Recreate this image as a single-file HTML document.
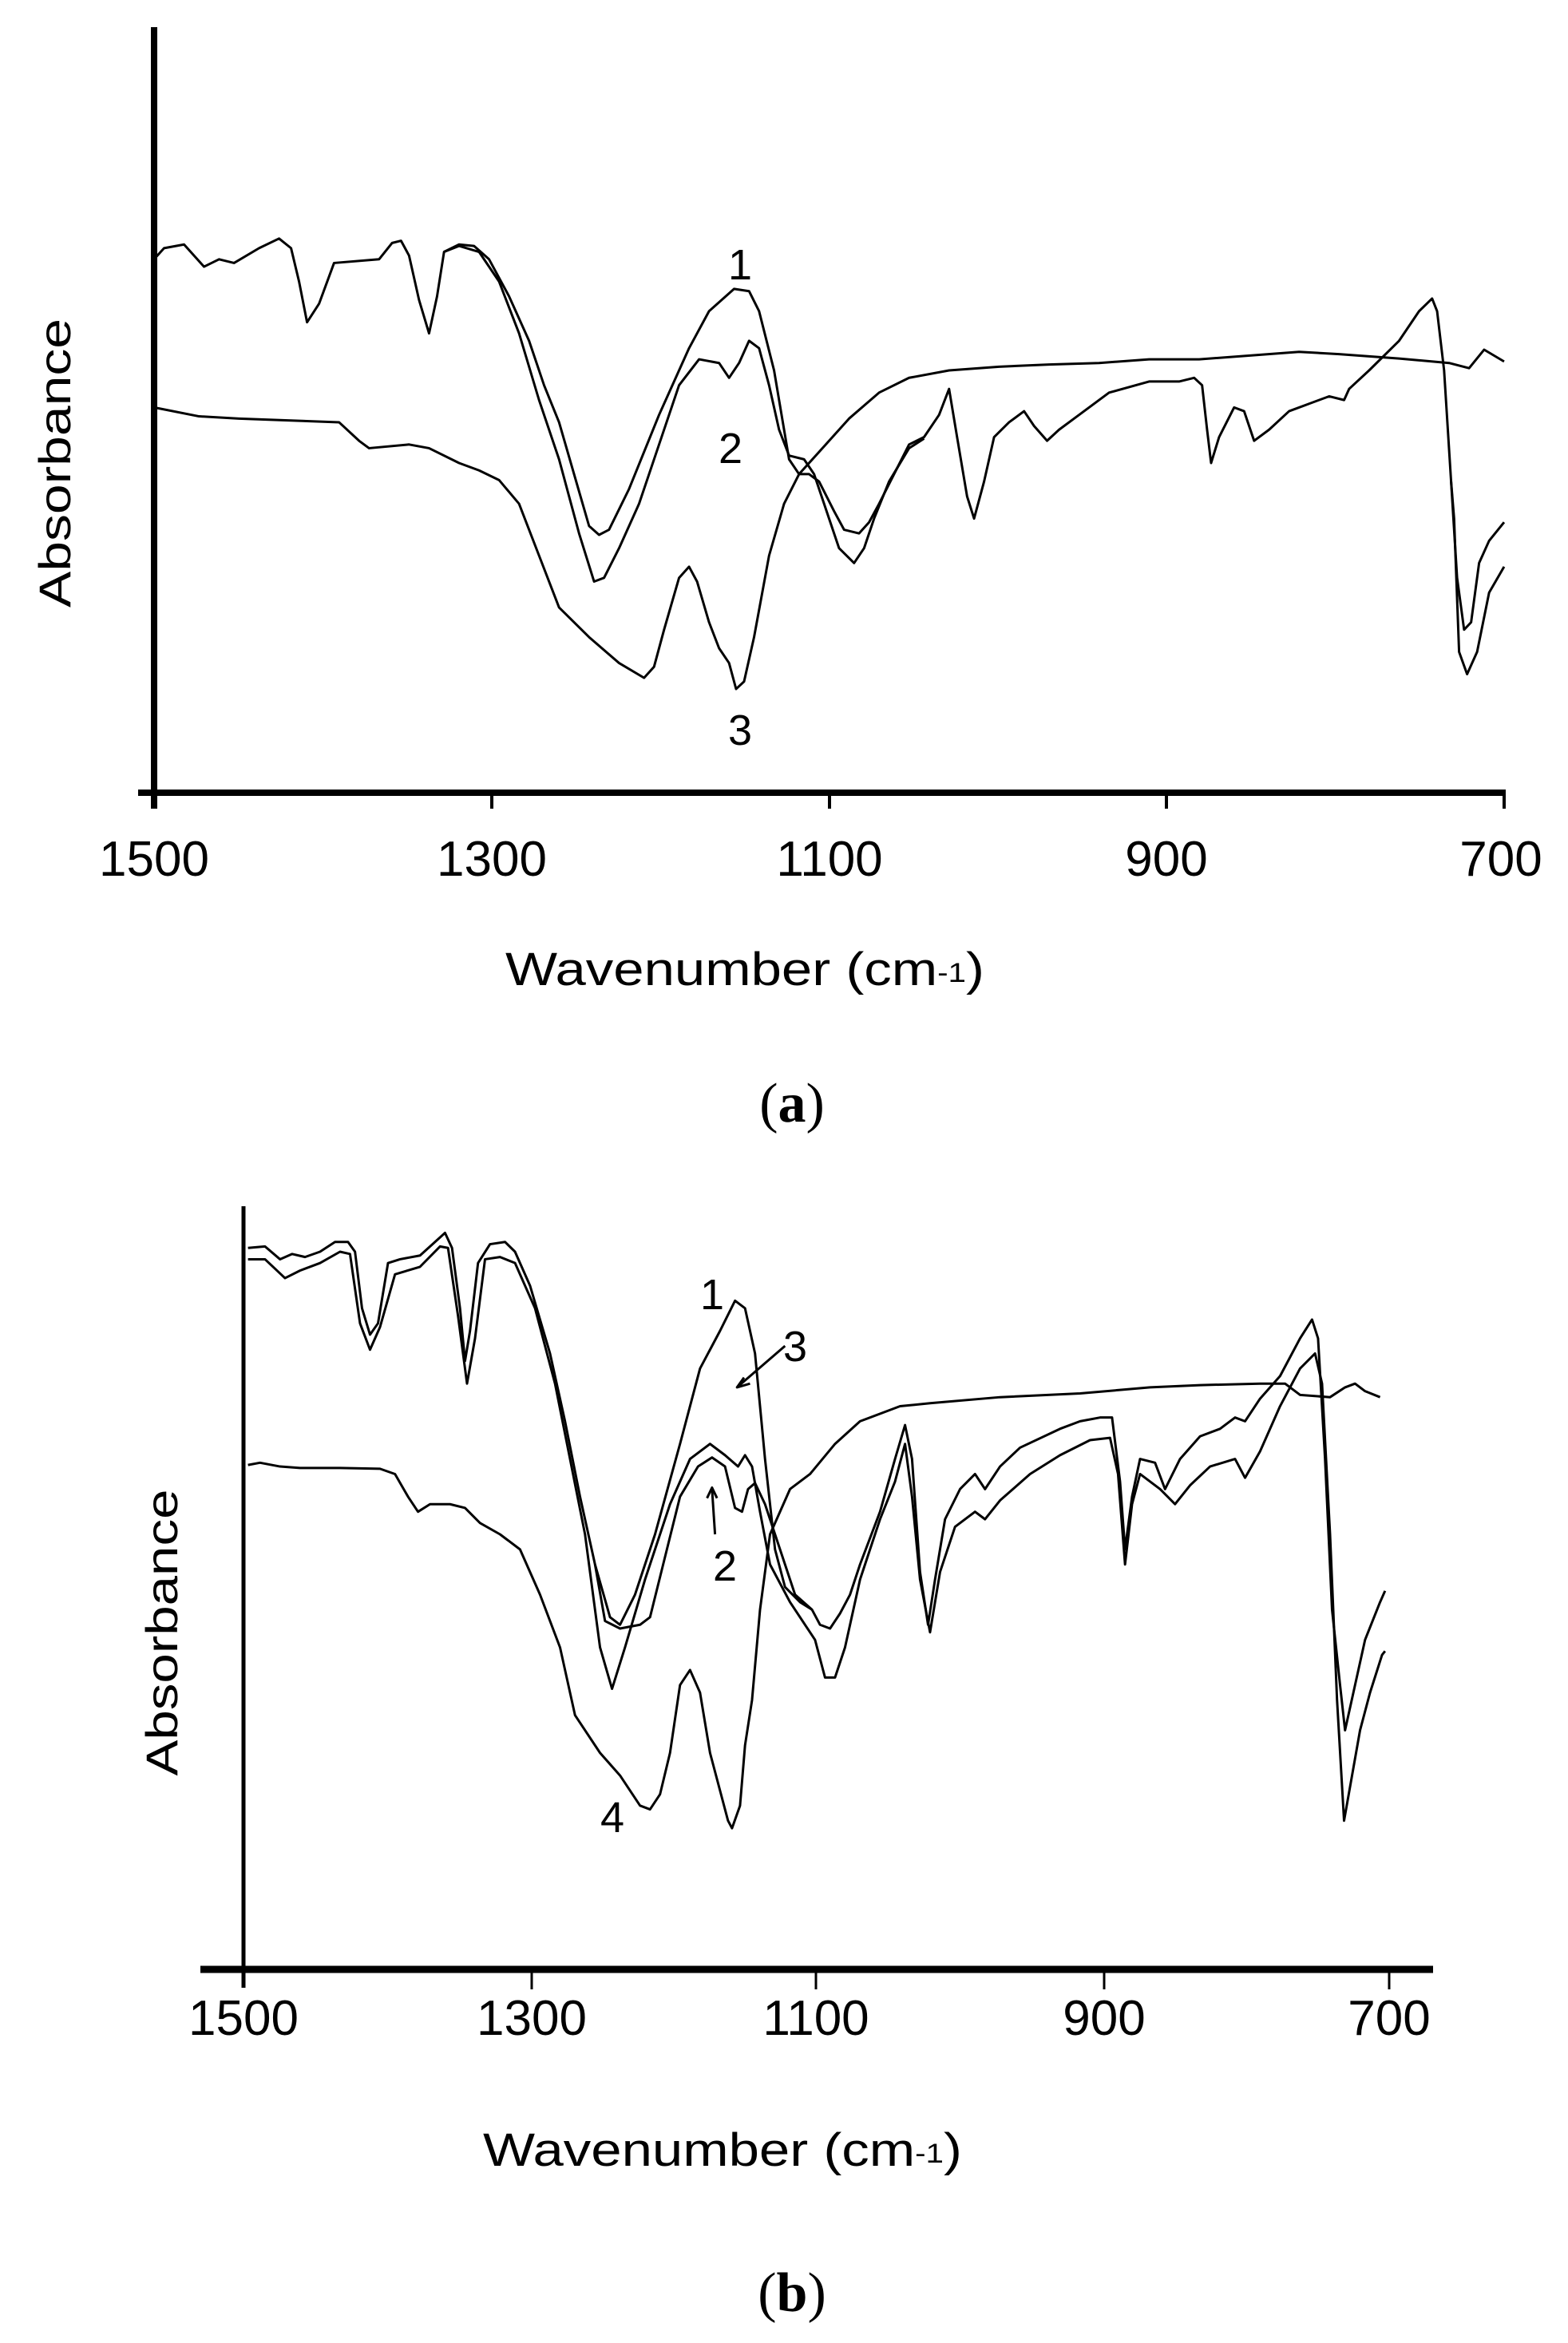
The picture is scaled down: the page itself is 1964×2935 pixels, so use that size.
<!DOCTYPE html>
<html><head><meta charset="utf-8"><style>
html,body{margin:0;padding:0;background:#fff;}
svg{display:block;}
text{font-family:"Liberation Sans","DejaVu Sans",sans-serif;fill:#000;}
.c{fill:none;stroke:#000;stroke-width:3;stroke-linejoin:round;vector-effect:non-scaling-stroke;}
</style></head><body>
<svg width="1964" height="2935" viewBox="0 0 1964 2935" xmlns="http://www.w3.org/2000/svg">
<rect width="1964" height="2935" fill="#fff"/>
<!-- Panel a axes -->
<line x1="193" y1="34" x2="193" y2="1013" stroke="#000" stroke-width="8"/>
<line x1="173" y1="993" x2="1884" y2="993" stroke="#000" stroke-width="8"/>
<g stroke="#000" stroke-width="4">
<line x1="616" y1="993" x2="616" y2="1013"/><line x1="1039" y1="993" x2="1039" y2="1013"/>
<line x1="1461" y1="993" x2="1461" y2="1013"/><line x1="1884" y1="989" x2="1884" y2="1013"/>
</g>
<g font-size="62" text-anchor="middle">
<text x="193" y="1097">1500</text><text x="616" y="1097">1300</text><text x="1039" y="1097">1100</text>
<text x="1461" y="1097">900</text><text x="1880" y="1097">700</text>
</g>
<text x="633" y="1234" font-size="58" textLength="600" lengthAdjust="spacingAndGlyphs">Wavenumber (cm<tspan font-size="34" dy="-4">-1</tspan><tspan dy="4">)</tspan></text>
<text transform="translate(88,580) rotate(-90)" font-size="56" text-anchor="middle" textLength="362" lengthAdjust="spacingAndGlyphs">Absorbance</text>
<text x="992" y="1405" font-size="70" text-anchor="middle" style="font-family:'Liberation Serif',serif">(<tspan font-weight="bold">a</tspan>)</text>
<g font-size="54" text-anchor="middle">
<text x="927" y="350">1</text><text x="915" y="580">2</text><text x="927" y="933">3</text>
</g>
<g transform="matrix(1.2526,0,0,0.928,-1.2,0)">
<polyline class="c" points="155,350 165,335 185,330 205,360 220,350 235,355 260,335 280,322 292,335 300,380 308,435 320,410 335,355 380,350 393,328 402,325 410,345 420,405 430,450 438,400 445,340 460,330 475,332 490,350 510,400 530,460 545,520 560,570 575,640 590,710 600,722 610,715 630,660 660,560 690,470 710,420 735,390 750,393 760,420 775,500 790,620 800,640 810,640 820,650 835,690 845,715 860,720 870,705 880,680 895,640 910,600 925,590 940,560 950,525 958,590 968,670 975,700 985,650 995,590 1010,570 1025,555 1035,575 1048,595 1060,580 1080,560 1110,530 1150,515 1180,515 1195,510 1203,520 1208,580 1212,625 1220,590 1235,550 1245,555 1255,595 1270,580 1290,555 1310,545 1330,535 1345,540 1350,525 1370,500 1400,460 1420,420 1433,403 1438,420 1445,500 1452,650 1458,780 1465,850 1472,840 1480,760 1490,730 1505,705"/>
<polyline class="c" points="445,340 460,332 480,340 500,380 520,450 540,540 560,620 580,720 595,785 605,780 620,740 640,680 660,600 680,520 700,485 720,490 730,510 740,490 750,460 760,470 770,520 780,580 790,615 805,620 815,640 825,680 840,740 855,760 865,740 875,700 890,650 910,605 925,592"/>
<polyline class="c" points="1452,650 1455,700 1460,880 1468,910 1478,880 1490,800 1505,765"/>
<polyline class="c" points="155,550 200,562 240,565 300,568 340,570 360,595 370,605 410,600 430,605 460,625 480,635 500,648 520,680 540,750 560,820 590,860 620,895 645,915 655,900 665,850 680,780 690,765 698,785 710,840 720,875 730,895 737,930 745,920 755,860 770,750 785,680 800,640 820,610 850,565 880,530 910,510 950,500 1000,495 1050,492 1100,490 1150,485 1200,485 1300,475 1340,478 1400,484 1450,490 1470,497 1485,472 1505,488"/>
</g>
<!-- Panel b axes -->
<line x1="305" y1="1511" x2="305" y2="2490" stroke="#000" stroke-width="5"/>
<line x1="251" y1="2467" x2="1795" y2="2467" stroke="#000" stroke-width="9"/>
<g stroke="#000" stroke-width="3">
<line x1="666" y1="2467" x2="666" y2="2492"/><line x1="1022" y1="2467" x2="1022" y2="2492"/>
<line x1="1383" y1="2467" x2="1383" y2="2492"/><line x1="1740" y1="2467" x2="1740" y2="2492"/>
</g>
<g font-size="62" text-anchor="middle">
<text x="305" y="2549">1500</text><text x="666" y="2549">1300</text><text x="1022" y="2549">1100</text>
<text x="1383" y="2549">900</text><text x="1740" y="2549">700</text>
</g>
<text x="605" y="2713" font-size="58" textLength="600" lengthAdjust="spacingAndGlyphs">Wavenumber (cm<tspan font-size="34" dy="-4">-1</tspan><tspan dy="4">)</tspan></text>
<text transform="translate(222,2045) rotate(-90)" font-size="56" text-anchor="middle" textLength="359" lengthAdjust="spacingAndGlyphs">Absorbance</text>
<text x="992" y="2895" font-size="70" text-anchor="middle" style="font-family:'Liberation Serif',serif">(<tspan font-weight="bold">b</tspan>)</text>
<g font-size="54" text-anchor="middle">
<text x="892" y="1640">1</text><text x="996" y="1705">3</text><text x="908" y="1980">2</text><text x="767" y="2295">4</text>
</g>
<g transform="matrix(1.2526,0,0,0.944,0,1450)">
<line class="c" x1="785" y1="250" x2="737" y2="305"/>
<polyline class="c" points="744,292 737,305 750,300"/>
<line class="c" x1="715" y1="500" x2="712" y2="440"/>
<polyline class="c" points="707,452 712,438 717,452"/>
<polyline class="c" points="248,120 265,118 280,135 292,128 305,132 320,125 335,112 348,112 355,125 362,200 370,235 378,220 388,140 400,135 420,130 435,112 445,100 452,120 460,200 465,270 470,230 478,140 490,115 505,112 515,125 530,170 550,260 565,350 580,450 595,540 610,610 620,620 635,580 655,500 680,380 700,280 720,230 735,190 745,200 755,260 765,400 775,520 785,570 800,590 812,600 820,620 830,625 840,605 850,580 860,540 880,470 895,400 905,355 912,400 920,550 928,620 935,560 945,480 960,440 975,420 985,440 1000,410 1020,385 1060,360 1080,350 1100,345 1112,345 1120,430 1125,520 1132,450 1140,400 1155,405 1165,440 1180,400 1200,370 1220,360 1235,345 1245,350 1260,320 1280,290 1300,240 1312,215 1318,240 1325,400 1332,600 1340,700 1345,760 1355,700 1365,640 1380,590 1385,575"/>
<polyline class="c" points="248,135 265,135 285,160 300,150 320,140 340,125 350,128 360,220 370,255 380,225 395,155 420,145 440,118 448,120 458,210 467,300 475,240 485,135 500,132 515,140 535,200 555,300 570,400 585,500 600,650 612,705 625,650 645,560 670,460 690,400 710,380 725,395 738,410 745,395 752,410 760,470 770,540 790,590 805,620 815,640 825,690 835,690 845,650 860,560 880,480 895,430 905,380 912,450 920,560 930,630 940,550 955,490 975,470 985,480 1000,455 1030,420 1060,395 1090,375 1110,372 1118,420 1125,540 1132,460 1140,420 1160,440 1175,460 1190,435 1210,410 1235,400 1245,425 1260,390 1280,330 1300,280 1315,260 1322,300 1330,500 1337,720 1344,880 1352,820 1360,760 1370,710 1382,660 1385,655"/>
<polyline class="c" points="595,540 605,615 620,625 640,620 650,610 665,530 680,450 698,410 712,398 725,410 735,465 742,470 748,440 755,432 765,460 780,520 795,580 812,600"/>
<polyline class="c" points="248,408 260,405 280,410 300,412 340,412 380,413 395,420 408,450 418,470 430,460 450,460 465,465 480,485 500,500 520,520 540,580 560,650 575,740 600,790 620,820 640,860 650,865 660,845 670,790 680,700 690,680 700,710 710,790 720,840 728,880 732,890 740,860 745,780 752,720 760,600 770,500 790,440 810,420 835,380 860,350 900,330 930,326 1000,318 1080,313 1150,305 1200,302 1260,300 1285,300 1300,315 1330,318 1345,305 1355,300 1365,310 1380,318"/>
</g>
</svg>
</body></html>
